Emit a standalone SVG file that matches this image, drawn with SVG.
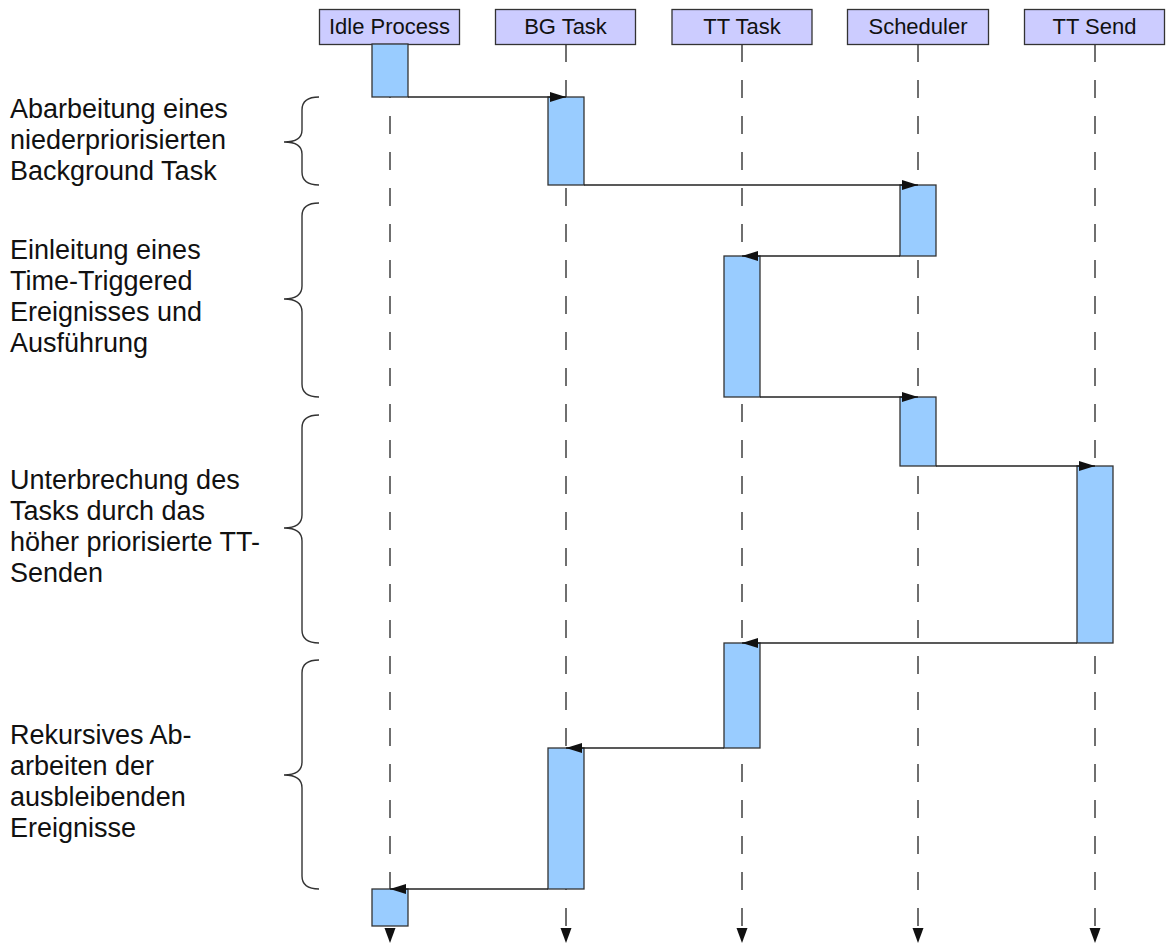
<svg xmlns="http://www.w3.org/2000/svg" width="1166" height="945" viewBox="0 0 1166 945">
<style>
.hdr{fill:#ccccff;stroke:#333;stroke-width:1.3}
.htxt{font-family:"Liberation Sans",Arial,sans-serif;font-size:22px;fill:#111;text-anchor:middle}
.life{stroke:#333;stroke-width:1.4;stroke-dasharray:18 18;fill:none}
.act{fill:#99ccff;stroke:#333;stroke-width:1.3}
.msg{stroke:#222;stroke-width:1.4;fill:none;marker-end:url(#ah)}
.brace{stroke:#333;stroke-width:1.4;fill:none}
.note{font-family:"Liberation Sans",Arial,sans-serif;font-size:27px;fill:#111}
</style>
<defs>
<marker id="ah" markerUnits="userSpaceOnUse" markerWidth="17" markerHeight="11" refX="16" refY="5" orient="auto">
<path d="M0,0 L16,5 L0,10 z" fill="#111"/>
</marker>
</defs>
<rect width="1166" height="945" fill="#fff"/>

<g id="idle">
<line class="life" x1="390" y1="44" x2="390" y2="928"/>
<path d="M384.5,928 L395.5,928 L390,943 z" fill="#111"/>
<rect class="hdr" x="319.5" y="9.5" width="140" height="35"/>
<text class="htxt" x="389.5" y="34">Idle Process</text>
<rect class="act" x="372" y="44" width="36" height="53"/>
<rect class="act" x="372" y="889" width="36" height="37"/>
</g>
<g id="bgtask">
<line class="life" x1="566" y1="44" x2="566" y2="928"/>
<path d="M560.5,928 L571.5,928 L566,943 z" fill="#111"/>
<rect class="hdr" x="495.5" y="9.5" width="140" height="35"/>
<text class="htxt" x="565.5" y="34">BG Task</text>
<rect class="act" x="548" y="97" width="36" height="88"/>
<rect class="act" x="548" y="748" width="36" height="141"/>
</g>
<g id="tttask">
<line class="life" x1="742" y1="44" x2="742" y2="928"/>
<path d="M736.5,928 L747.5,928 L742,943 z" fill="#111"/>
<rect class="hdr" x="672" y="9.5" width="140" height="35"/>
<text class="htxt" x="742" y="34">TT Task</text>
<rect class="act" x="724" y="256" width="36" height="141"/>
<rect class="act" x="724" y="643" width="36" height="105"/>
</g>
<g id="scheduler">
<line class="life" x1="918" y1="44" x2="918" y2="928"/>
<path d="M912.5,928 L923.5,928 L918,943 z" fill="#111"/>
<rect class="hdr" x="847.5" y="9.5" width="141" height="35"/>
<text class="htxt" x="918" y="34">Scheduler</text>
<rect class="act" x="900" y="185" width="36" height="71"/>
<rect class="act" x="900" y="397" width="36" height="69"/>
</g>
<g id="ttsend">
<line class="life" x1="1095" y1="44" x2="1095" y2="928"/>
<path d="M1089.5,928 L1100.5,928 L1095,943 z" fill="#111"/>
<rect class="hdr" x="1024.5" y="9.5" width="140" height="35"/>
<text class="htxt" x="1094.5" y="34">TT Send</text>
<rect class="act" x="1077" y="466" width="36" height="177"/>
</g>

<g id="connectors">
<line class="msg" x1="408" y1="97" x2="566" y2="97"/>
<line class="msg" x1="584" y1="185" x2="918" y2="185"/>
<line class="msg" x1="900" y1="256" x2="742" y2="256"/>
<line class="msg" x1="760" y1="397" x2="918" y2="397"/>
<line class="msg" x1="936" y1="466" x2="1095" y2="466"/>
<line class="msg" x1="1077" y1="643" x2="742" y2="643"/>
<line class="msg" x1="724" y1="748" x2="566" y2="748"/>
<line class="msg" x1="548" y1="889" x2="390" y2="889"/>
</g>

<g id="annotations">
<path class="brace" d="M319,97 Q302,97 302,110 L302,130 Q302,142 284,142 Q302,142 302,154 L302,172 Q302,185 319,185"/>
<text class="note"><tspan x="10" y="118">Abarbeitung eines</tspan><tspan x="10" y="149">niederpriorisierten</tspan><tspan x="10" y="180">Background Task</tspan></text>

<path class="brace" d="M319,203 Q302,203 302,216 L302,286 Q302,299 284,299 Q302,299 302,312 L302,384 Q302,397 319,397"/>
<text class="note"><tspan x="10" y="259">Einleitung eines</tspan><tspan x="10" y="290">Time-Triggered</tspan><tspan x="10" y="321">Ereignisses und</tspan><tspan x="10" y="352">Ausführung</tspan></text>

<path class="brace" d="M319,415 Q302,415 302,428 L302,515 Q302,528 284,528 Q302,528 302,541 L302,630 Q302,643 319,643"/>
<text class="note"><tspan x="10" y="489">Unterbrechung des</tspan><tspan x="10" y="520">Tasks durch das</tspan><tspan x="10" y="551">höher priorisierte TT-</tspan><tspan x="10" y="582">Senden</tspan></text>

<path class="brace" d="M319,660 Q302,660 302,673 L302,762 Q302,775 284,775 Q302,775 302,788 L302,876 Q302,889 319,889"/>
<text class="note"><tspan x="10" y="744">Rekursives Ab-</tspan><tspan x="10" y="775">arbeiten der</tspan><tspan x="10" y="806">ausbleibenden</tspan><tspan x="10" y="837">Ereignisse</tspan></text>
</g>
</svg>
